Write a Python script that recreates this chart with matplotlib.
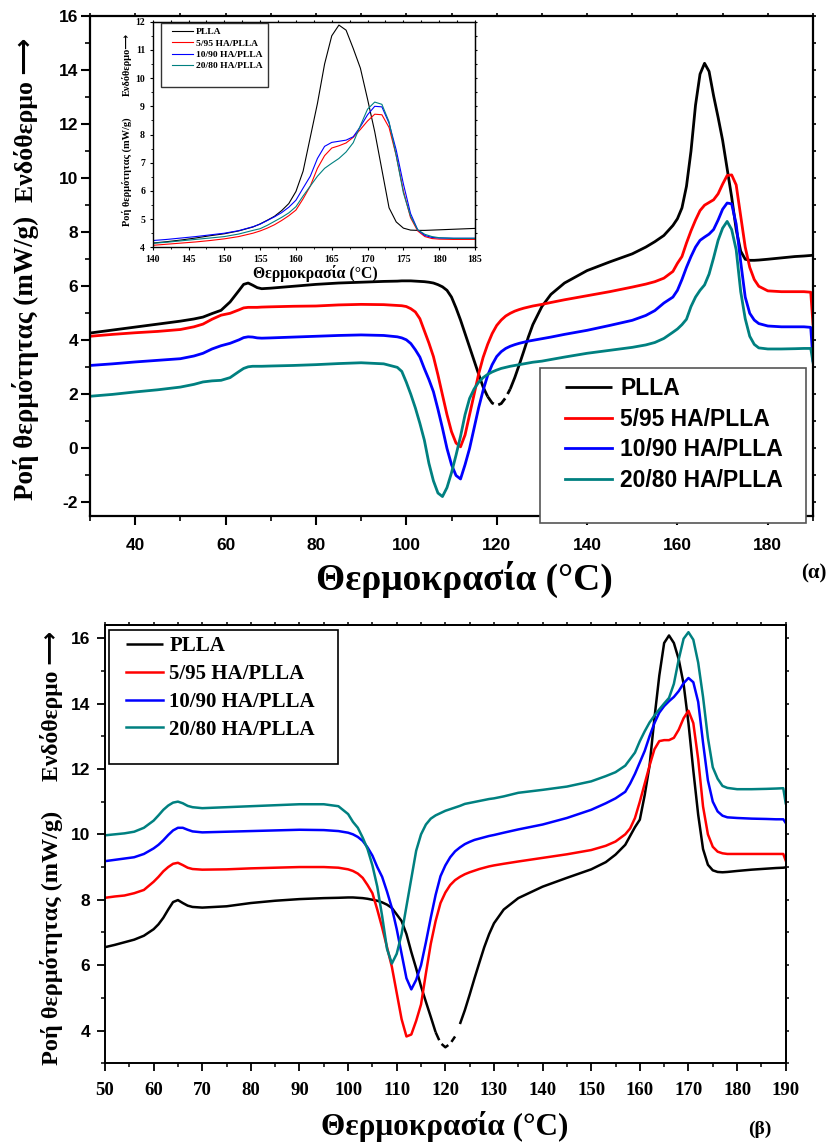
import numpy as np
import matplotlib
matplotlib.use("Agg")
import matplotlib.pyplot as plt
from matplotlib.patches import Rectangle

# ─────────── fonts / styling ────────────────────────────────────────────────
SERIF = "Liberation Serif"
SANS = "Liberation Sans"
ARROW_FAMILY = ["Liberation Serif", "DejaVu Sans"]

LABELS = ["PLLA", "5/95 HA/PLLA", "10/90 HA/PLLA", "20/80 HA/PLLA"]
COLORS = ["black", "#ff0000", "#0000ff", "#008080"]

# ─────────── (α) DSC heating scan, 30-190 °C ───────────────────────────────
T_A = [30, 35, 40, 45, 50, 53, 55, 57, 59, 61, 63, 64, 65, 66, 67, 68, 70, 75, 80, 85, 90, 95,
       98, 99, 100, 101, 102, 103, 104, 105, 106, 107, 108, 109, 110, 111, 112, 113, 114, 115,
       116, 117, 118, 119, 120, 121, 122, 123, 124, 125, 126, 127, 128,
       130, 132, 135, 140, 145, 150, 153, 155, 157, 159,
       160, 161, 162, 163, 164, 165, 166, 167, 168, 169, 170, 171, 172, 173, 174, 175, 176, 177, 178,
       180, 183, 186, 188, 189.5, 190]

PLLA_A = [4.27, 4.38, 4.49, 4.60, 4.71, 4.79, 4.86, 4.99, 5.11, 5.42, 5.85, 6.07, 6.12, 6.04, 5.95, 5.91, 5.93, 6.00, 6.07, 6.12, 6.15, 6.18,
          6.19, 6.20, 6.20, 6.20, 6.19, 6.18, 6.17, 6.15, 6.12, 6.06, 5.98, 5.85, 5.60, 5.20, 4.75, 4.25, 3.75, 3.25,
          2.75, 2.27, 1.92, 1.68, 1.59, 1.66, 1.88, 2.20, 2.62, 3.10, 3.60, 4.12, 4.58,
          5.25, 5.70, 6.12, 6.58, 6.90, 7.20, 7.45, 7.65, 7.88, 8.25,
          8.50, 8.90, 9.70, 11.0, 12.7, 13.85, 14.25, 13.95, 13.05, 12.25, 11.4, 10.35, 9.30, 8.10, 7.30, 7.00, 6.96, 6.96, 6.97,
          7.00, 7.05, 7.10, 7.12, 7.14, 7.15]

HA5_A = [4.15, 4.22, 4.28, 4.33, 4.40, 4.50, 4.60, 4.78, 4.93, 5.00, 5.13, 5.20, 5.22, 5.22, 5.22, 5.23, 5.24, 5.26, 5.27, 5.31, 5.33, 5.32,
         5.29, 5.28, 5.25, 5.17, 5.05, 4.80, 4.35, 3.90, 3.40, 2.72, 1.98, 1.25, 0.62, 0.20, 0.06, 0.50, 1.25, 2.00,
         2.75, 3.37, 3.85, 4.25, 4.55, 4.75, 4.90, 5.00, 5.08, 5.14, 5.19, 5.23, 5.27,
         5.33, 5.40, 5.50, 5.65, 5.80, 5.97, 6.08, 6.17, 6.30, 6.55,
         6.85, 7.10, 7.60, 8.05, 8.45, 8.80, 9.00, 9.10, 9.20, 9.42, 9.78, 10.10, 10.12, 9.75, 8.60, 7.45, 6.70, 6.25, 6.00,
         5.83, 5.80, 5.80, 5.80, 5.78, 4.60]

HA10_A = [3.07, 3.13, 3.20, 3.26, 3.32, 3.42, 3.52, 3.68, 3.80, 3.89, 4.02, 4.10, 4.13, 4.12, 4.09, 4.08, 4.09, 4.12, 4.15, 4.18, 4.20, 4.18,
          4.13, 4.09, 4.02, 3.88, 3.65, 3.38, 2.95, 2.55, 2.10, 1.45, 0.75, 0.00, -0.60, -1.00, -1.13, -0.60, 0.00, 0.75,
          1.50, 2.15, 2.70, 3.10, 3.40, 3.58, 3.70, 3.78, 3.84, 3.89, 3.93, 3.97, 4.00,
          4.06, 4.12, 4.22, 4.37, 4.55, 4.74, 4.92, 5.10, 5.38, 5.60,
          5.85, 6.25, 6.70, 7.10, 7.45, 7.70, 7.82, 7.93, 8.10, 8.45, 8.85, 9.08, 9.05, 8.30, 6.90, 5.60, 5.00, 4.75, 4.62,
          4.53, 4.50, 4.50, 4.50, 4.48, 3.26]

HA20_A = [1.93, 2.00, 2.09, 2.17, 2.27, 2.37, 2.46, 2.50, 2.52, 2.62, 2.85, 2.96, 3.02, 3.04, 3.04, 3.04, 3.05, 3.07, 3.10, 3.14, 3.17, 3.13,
          3.00, 2.85, 2.45, 2.00, 1.50, 0.93, 0.30, -0.55, -1.20, -1.65, -1.78, -1.45, -0.90, -0.25, 0.45, 1.25, 1.85, 2.20,
          2.45, 2.62, 2.74, 2.83, 2.90, 2.96, 3.00, 3.04, 3.07, 3.10, 3.13, 3.16, 3.19,
          3.23, 3.29, 3.38, 3.52, 3.63, 3.74, 3.83, 3.92, 4.07, 4.30,
          4.42, 4.58, 4.78, 5.25, 5.60, 5.85, 6.05, 6.45, 7.05, 7.70, 8.15, 8.40, 8.10, 7.35, 5.80, 4.80, 4.15, 3.85, 3.72,
          3.68, 3.68, 3.69, 3.70, 3.70, 3.19]

# ─────────── (α) inset: melting region 140-185 °C ──────────────────────────
T_IN = [140, 142, 144, 146, 148, 150, 152, 154,
        155, 156, 157, 158, 159, 160, 161, 162, 163, 164, 165, 166, 167,
        168, 169, 170, 171, 172, 173, 174, 175, 176, 177, 178, 179, 180,
        182, 185]

PLLA_IN = [4.15, 4.20, 4.26, 4.33, 4.41, 4.48, 4.58, 4.72,
           4.83, 4.96, 5.10, 5.30, 5.55, 5.98, 6.70, 7.90, 9.10, 10.50, 11.50, 11.88, 11.70,
           11.05, 10.35, 9.25, 8.10, 6.75, 5.40, 4.90, 4.68, 4.61, 4.60, 4.60, 4.61, 4.62,
           4.64, 4.67]

HA5_IN = [4.07, 4.11, 4.15, 4.19, 4.24, 4.30, 4.38, 4.50,
          4.58, 4.68, 4.80, 4.95, 5.12, 5.32, 5.72, 6.17, 6.80, 7.25, 7.52, 7.60, 7.70,
          7.90, 8.18, 8.48, 8.72, 8.70, 8.25, 7.25, 6.00, 5.05, 4.58, 4.38, 4.31, 4.29,
          4.28, 4.28]

HA10_IN = [4.24, 4.28, 4.33, 4.38, 4.44, 4.50, 4.59, 4.73,
           4.82, 4.95, 5.08, 5.23, 5.42, 5.67, 6.10, 6.52, 7.15, 7.58, 7.72, 7.76, 7.80,
           7.92, 8.28, 8.70, 9.00, 8.98, 8.40, 7.45, 6.25, 5.20, 4.62, 4.42, 4.35, 4.33,
           4.32, 4.32]

HA20_IN = [4.14, 4.18, 4.23, 4.28, 4.33, 4.38, 4.47, 4.60,
           4.66, 4.78, 4.92, 5.06, 5.22, 5.44, 5.82, 6.17, 6.52, 6.80, 6.98, 7.15, 7.38,
           7.71, 8.32, 8.90, 9.15, 9.07, 8.45, 7.25, 5.93, 5.10, 4.62, 4.46, 4.38, 4.34,
           4.32, 4.32]

# ─────────── (β) DSC heating scan, 50-190 °C ───────────────────────────────
T_B = [50, 52, 54, 56, 58, 60, 61, 62, 63, 64, 65, 66, 67, 68, 70, 75, 80, 85, 90, 95, 98,
       100, 101, 102, 103, 104, 105, 106, 107, 108, 109,
       110, 111, 112, 113, 114, 115, 116, 117, 118, 119,
       120, 121, 122, 123, 124, 125, 126, 127, 128, 129, 130,
       132, 135, 140, 145, 150, 153, 155, 157,
       158, 159, 160, 161, 162, 163, 164, 165, 166, 167, 168, 169, 170, 171, 172, 173, 174, 175, 176, 177, 178,
       180, 183, 186, 188, 189.5, 190]

PLLA_B = [6.55, 6.62, 6.70, 6.78, 6.90, 7.10, 7.25, 7.45, 7.70, 7.93, 7.99, 7.90, 7.82, 7.78, 7.76, 7.80, 7.90, 7.97, 8.02, 8.05, 8.06,
          8.07, 8.07, 8.06, 8.05, 8.03, 8.00, 7.97, 7.92, 7.85, 7.75,
          7.55, 7.35, 6.95, 6.40, 5.90, 5.35, 4.88, 4.42, 3.95, 3.62,
          3.49, 3.60, 3.82, 4.20, 4.62, 5.10, 5.60, 6.08, 6.55, 6.95, 7.28,
          7.70, 8.05, 8.40, 8.67, 8.93, 9.15, 9.38, 9.68,
          9.95, 10.22, 10.45, 11.20, 12.10, 13.55, 14.85, 15.85, 16.08, 15.85, 15.35, 14.60, 13.40, 11.95, 10.60, 9.55, 9.07, 8.90, 8.85, 8.84, 8.85,
          8.88, 8.92, 8.95, 8.97, 8.98, 8.99]

HA5_B = [8.06, 8.10, 8.13, 8.20, 8.30, 8.55, 8.70, 8.87, 9.00, 9.10, 9.13, 9.06, 8.98, 8.94, 8.92, 8.93, 8.96, 8.98, 9.00, 9.00, 8.98,
         8.93, 8.88, 8.80, 8.67, 8.45, 8.20, 7.70, 7.15, 6.55, 5.95,
         5.15, 4.35, 3.82, 3.88, 4.30, 4.80, 5.75, 6.65, 7.35, 7.90,
         8.22, 8.45, 8.60, 8.70, 8.78, 8.84, 8.89, 8.94, 8.98, 9.02, 9.05,
         9.10, 9.17, 9.28, 9.39, 9.52, 9.65, 9.78, 10.00,
         10.18, 10.50, 11.00, 11.55, 12.10, 12.60, 12.85, 12.88, 12.88, 12.95, 13.20, 13.55, 13.78, 13.40, 12.30, 10.85, 10.00, 9.62, 9.47, 9.42, 9.40,
         9.40, 9.40, 9.40, 9.40, 9.40, 9.20]

HA10_B = [9.18, 9.22, 9.26, 9.30, 9.40, 9.57, 9.68, 9.82, 9.98, 10.12, 10.20, 10.20, 10.14, 10.09, 10.06, 10.08, 10.10, 10.12, 10.14, 10.13, 10.10,
          10.05, 10.00, 9.92, 9.80, 9.60, 9.35, 9.00, 8.70, 8.25, 7.75,
          7.10, 6.35, 5.60, 5.26, 5.55, 6.00, 6.70, 7.45, 8.15, 8.72,
          9.05, 9.30, 9.48, 9.60, 9.70, 9.77, 9.83, 9.87, 9.91, 9.95, 9.98,
          10.05, 10.15, 10.30, 10.50, 10.75, 10.95, 11.10, 11.30,
          11.55, 11.85, 12.20, 12.55, 13.00, 13.40, 13.72, 13.92, 14.07, 14.20, 14.38, 14.62, 14.78, 14.65, 14.05, 12.80, 11.65, 11.00, 10.70, 10.57, 10.52,
          10.50, 10.48, 10.47, 10.46, 10.46, 10.35]

HA20_B = [9.97, 10.00, 10.03, 10.08, 10.20, 10.42, 10.58, 10.75, 10.88, 10.97, 11.00, 10.95, 10.87, 10.83, 10.80, 10.83, 10.86, 10.89, 10.92, 10.92, 10.86,
          10.62, 10.38, 10.20, 9.90, 9.55, 9.05, 8.40, 7.50, 6.50, 6.05,
          6.35, 6.95, 7.80, 8.65, 9.50, 10.00, 10.30, 10.48, 10.58, 10.65,
          10.72, 10.77, 10.82, 10.87, 10.93, 10.96, 10.99, 11.02, 11.05, 11.08, 11.10,
          11.16, 11.27, 11.36, 11.46, 11.62, 11.78, 11.90, 12.10,
          12.30, 12.50, 12.85, 13.15, 13.42, 13.63, 13.82, 14.00, 14.17, 14.60, 15.35, 15.98, 16.18, 15.95, 15.25, 14.20, 12.95, 12.05, 11.70, 11.48, 11.42,
          11.38, 11.38, 11.39, 11.40, 11.41, 10.95]

# ────────────────────────────────────────────────────────────────────────────
W, H = 832, 1144


def fpos(x, y):
    """pixel position (from top-left) -> figure fraction"""
    return x / W, 1 - y / H


def rect(left, top, right, bottom):
    return [left / W, 1 - bottom / H, (right - left) / W, (bottom - top) / H]


def bold(family, size):
    return dict(family=family, weight="bold", size=size)


def draw_plla(ax, T, y, lo, hi, lw):
    # the PLLA trace is broken into a dashed stretch around the cold-crystallisation minimum
    T = np.asarray(T, float)
    y = np.asarray(y, float)
    inside = (T >= lo) & (T <= hi)
    solid = np.where((T > lo) & (T < hi), np.nan, y)
    ax.plot(T, solid, color=COLORS[0], lw=lw, solid_capstyle="butt")
    ax.plot(T[inside], y[inside], color=COLORS[0], lw=lw, dashes=(3.5, 1.8))


def boxed_legend(ax, fig, handles, box, anchor, prop, edge, lw, **kw):
    l, t, r, b = box
    x0, y0 = fpos(l, b)
    ax.add_patch(Rectangle((x0, y0), (r - l) / W, (b - t) / H, transform=fig.transFigure,
                           facecolor="white", edgecolor=edge, lw=lw, clip_on=False, zorder=5))
    leg = ax.legend(handles=handles, labels=LABELS, loc="upper left",
                    bbox_to_anchor=fpos(*anchor), bbox_transform=fig.transFigure,
                    frameon=False, borderpad=0, borderaxespad=0, prop=prop, **kw)
    leg.set_zorder(6)
    return leg


def mirror_ticks(ax, xt, yt, length, width):
    top = ax.secondary_xaxis("top")
    top.set_xticks(xt, labels=[])
    top.tick_params(direction="out", length=length, width=width)
    right = ax.secondary_yaxis("right")
    right.set_yticks(yt, labels=[])
    right.tick_params(direction="out", length=length, width=width)
    for sec in (top, right):
        for s in sec.spines.values():
            s.set_linewidth(width)


fig = plt.figure(figsize=(W / 100, H / 100), dpi=100)

# ── (α) main panel ──────────────────────────────────────────────────────────
ax1 = fig.add_axes(rect(90, 16, 813, 516))
lines1 = []
draw_plla(ax1, T_A, PLLA_A, 118, 123, 2.0)
lines1.append(ax1.lines[-2])
for ys, c in zip([HA5_A, HA10_A, HA20_A], COLORS[1:]):
    lines1 += ax1.plot(T_A, ys, color=c, lw=2.0)

ax1.set_xlim(30, 190)
ax1.set_ylim(-2.5, 16)
xt = np.arange(40, 181, 20)
yt = np.arange(-2, 17, 2)
ax1.set_xticks(xt, labels=[str(v) for v in xt], **bold(SANS, 12.5))
ax1.set_yticks(yt, labels=[str(v) for v in yt], **bold(SANS, 12.5))
ax1.set_xticks(np.arange(30, 191, 10), minor=True)
ax1.set_yticks(np.arange(-2, 16.5, 1), minor=True)
ax1.tick_params(which="major", direction="out", length=6.5, width=1.5)
ax1.tick_params(which="minor", direction="out", length=3.5, width=1.2)
ax1.tick_params(axis="x", which="major", pad=9)
ax1.tick_params(axis="y", which="major", pad=2)
for s in ax1.spines.values():
    s.set_linewidth(1.6)
mirror_ticks(ax1, np.arange(30, 191, 10), np.arange(-2, 16.5, 1), 2.5, 1.2)

boxed_legend(ax1, fig, lines1, (540, 368, 806, 523), (565, 377),
             bold(SANS, 16.5), "#555555", 1.2,
             handlelength=2.05, handletextpad=0.35, labelspacing=0.33)

fig.text(*fpos(26, 358), "Ροή θερμότητας (mW/g)", rotation=90, ha="center", va="center",
         **bold(SERIF, 19.5))
fig.text(*fpos(26, 120), "Ενδόθερμο ⟶", rotation=90, ha="center", va="center",
         family=ARROW_FAMILY, weight="bold", size=18.5)
fig.text(*fpos(464, 579), "Θερμοκρασία (°C)", ha="center", va="center", **bold(SERIF, 27))
fig.text(*fpos(814, 573), "(α)", ha="center", va="center", **bold(SERIF, 15))

# ── (α) inset ───────────────────────────────────────────────────────────────
axi = fig.add_axes(rect(152.7, 21.7, 475, 247.3))
axi.set_facecolor("white")
lines_in = []
lines_in += axi.plot(T_IN, PLLA_IN, color=COLORS[0], lw=0.8)
for ys, c in zip([HA5_IN, HA10_IN, HA20_IN], COLORS[1:]):
    lines_in += axi.plot(T_IN, ys, color=c, lw=0.8)
axi.set_xlim(140, 185)
axi.set_ylim(4, 12)
xi = np.arange(140, 186, 5)
yi = np.arange(4, 13, 1)
axi.set_xticks(xi, labels=[str(v) for v in xi], **bold(SERIF, 7))
axi.set_yticks(yi, labels=[str(v) for v in yi], **bold(SERIF, 7))
axi.set_xticks(np.arange(140, 185.1, 2.5), minor=True)
axi.set_yticks(np.arange(4, 12.1, 0.5), minor=True)
axi.tick_params(which="major", direction="out", length=2.5, width=0.8, pad=3)
axi.tick_params(which="minor", direction="out", length=1.5, width=0.6)
for s in axi.spines.values():
    s.set_linewidth(1.0)
mirror_ticks(axi, np.arange(140, 185.1, 2.5), np.arange(4, 12.1, 0.5), 1.5, 0.8)

boxed_legend(axi, fig, lines_in, (161, 23.3, 268, 87.3), (171.7, 27.5),
             bold(SERIF, 6.8), "#333333", 1.0,
             handlelength=2.3, handletextpad=0.25, labelspacing=0.3)

fig.text(*fpos(127, 172), "Ροή θερμότητας (mW/g)", rotation=90, ha="center", va="center",
         **bold(SERIF, 7.5))
fig.text(*fpos(127, 64), "Ενδόθερμο⟶", rotation=90, ha="center", va="center",
         family=ARROW_FAMILY, weight="bold", size=7.5)
fig.text(*fpos(315.5, 274), "Θερμοκρασία (°C)", ha="center", va="center", **bold(SERIF, 11.3))

# ── (β) panel ───────────────────────────────────────────────────────────────
ax2 = fig.add_axes(rect(105, 625, 785.7, 1063.3))
lines2 = []
draw_plla(ax2, T_B, PLLA_B, 118, 122.5, 1.8)
lines2.append(ax2.lines[-2])
for ys, c in zip([HA5_B, HA10_B, HA20_B], COLORS[1:]):
    lines2 += ax2.plot(T_B, ys, color=c, lw=1.8)

ax2.set_xlim(50, 190)
ax2.set_ylim(3, 16.4)
xb = np.arange(50, 191, 10)
yb = np.arange(4, 17, 2)
ax2.set_xticks(xb, labels=[str(v) for v in xb], **bold(SERIF, 13.5))
ax2.set_yticks(yb, labels=[str(v) for v in yb], **bold(SANS, 12.5))
ax2.set_xticks(np.arange(50, 191, 5), minor=True)
ax2.set_yticks(np.arange(3, 16.5, 1), minor=True)
ax2.tick_params(which="major", direction="out", length=5.5, width=1.3)
ax2.tick_params(which="minor", direction="out", length=3, width=1.1)
ax2.tick_params(axis="x", which="major", pad=8)
ax2.tick_params(axis="y", which="major", pad=5)
for s in ax2.spines.values():
    s.set_linewidth(1.4)
mirror_ticks(ax2, np.arange(50, 191, 5), np.arange(3, 16.5, 1), 2.5, 1.1)

boxed_legend(ax2, fig, lines2, (109, 630, 338, 764), (126, 636),
             bold(SERIF, 15), "black", 1.2,
             handlelength=1.78, handletextpad=0.3, labelspacing=0.38)

fig.text(*fpos(52, 938), "Ροή θερμότητας (mW/g)", rotation=90, ha="center", va="center",
         **bold(SERIF, 17.5))
fig.text(*fpos(52, 706), "Ενδόθερμο ⟶", rotation=90, ha="center", va="center",
         family=ARROW_FAMILY, weight="bold", size=17)
fig.text(*fpos(444.5, 1126), "Θερμοκρασία (°C)", ha="center", va="center", **bold(SERIF, 22.5))
fig.text(*fpos(759.5, 1129), "(β)", ha="center", va="center", **bold(SERIF, 14))

fig.savefig("out.png", dpi=100, facecolor="white")
